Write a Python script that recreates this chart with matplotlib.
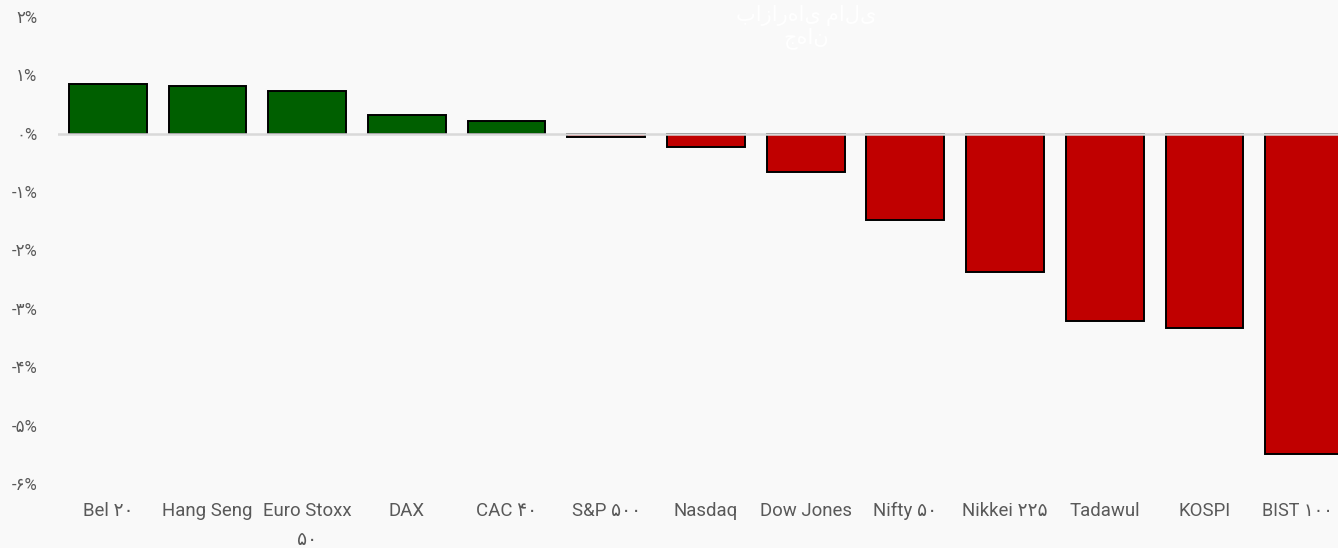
import matplotlib
matplotlib.use("Agg")
import matplotlib.pyplot as plt
import matplotlib.transforms as mtransforms

categories = ["Bel ۲۰", "Hang Seng", "Euro Stoxx\n۵۰", "DAX", "CAC ۴۰", "S&P ۵۰۰",
              "Nasdaq", "Dow Jones", "Nifty ۵۰", "Nikkei ۲۲۵", "Tadawul", "KOSPI", "BIST ۱۰۰"]
values = [0.86, 0.82, 0.74, 0.32, 0.21, -0.05, -0.22, -0.65, -1.48, -2.37, -3.20, -3.33, -5.48]
ytick_values = [2, 1, 0, -1, -2, -3, -4, -5, -6]
ytick_labels = ["۲%", "۱%", "۰%", "-۱%", "-۲%", "-۳%", "-۴%", "-۵%", "-۶%"]
title = "بازارهای مالی\nجهان"

fam = ["Roboto", "DejaVu Sans"]
bg = "#f9f9f9"
W, H = 1338, 548
fig = plt.figure(figsize=(W / 100, H / 100), dpi=100, facecolor=bg)
ax = fig.add_axes([58 / W, (H - 484) / H, (W - 58) / W, (484 - 17) / H])
ax.set_facecolor(bg)

colors = ["#005f00" if v >= 0 else "#c00000" for v in values]
x = list(range(len(categories)))
ax.bar(x, values, width=0.78, color=colors, edgecolor="black", linewidth=1.4, zorder=2)
ax.axhline(0, color="#d9d9d9", lw=1.8, zorder=3)

ax.set_xlim(-0.5, 12.34)
ax.set_ylim(-6, 2)
ax.set_yticks(ytick_values)
ax.set_yticklabels(ytick_labels, family=fam, fontsize=12, color="#595959")
ax.set_xticks(x)
ax.set_xticklabels(categories, family=fam, fontsize=13.4, color="#595959", linespacing=1.75)
ax.tick_params(axis="both", length=0)
ax.tick_params(axis="y", pad=15)
ax.tick_params(axis="x", pad=13)
for s in ax.spines.values():
    s.set_visible(False)

# keep last label inside the figure edge
last = ax.get_xticklabels()[-1]
last.set_fontsize(13)
last.set_transform(last.get_transform() + mtransforms.ScaledTranslation(-5 / 72, 0, fig.dpi_scale_trans))

fig.text(806 / W, 1 - 5 / H, title, ha="center", va="top", color="white",
         fontsize=15, family=fam, linespacing=1.1)

fig.savefig("out.png", dpi=100, facecolor=bg)
